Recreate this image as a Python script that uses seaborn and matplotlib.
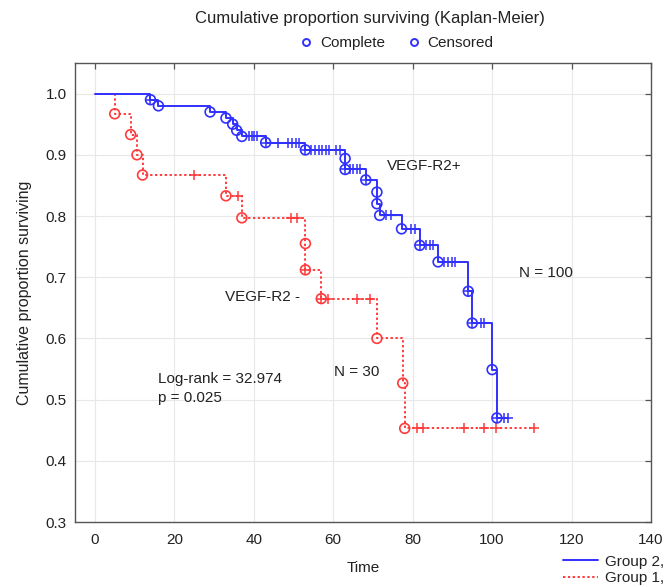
import numpy as np
import pandas as pd
import matplotlib
matplotlib.use("Agg")
import matplotlib.pyplot as plt
from matplotlib.lines import Line2D
import seaborn as sns

# ---- Data ----
# Group 2 (VEGF-R2+), N = 100
g2_event_times = [14, 16, 29, 33, 34.7, 35.7, 37, 43, 53, 63, 63, 68.2, 71, 71, 71.7,
                  77.2, 81.8, 86.4, 94, 95, 100, 101.2]
g2_surv = [0.99, 0.98, 0.97, 0.96, 0.95, 0.94, 0.93, 0.92, 0.908, 0.894, 0.876, 0.859,
           0.839, 0.820, 0.801, 0.779, 0.752, 0.725, 0.677, 0.625, 0.549, 0.470]
g2_censor_times = [14, 38.9, 39.5, 40.1, 40.7, 43, 46, 48.7, 49.7, 50.6, 51.5, 53, 54.5,
                   55.4, 56.4, 57.3, 58.2, 59, 60.8, 61.7, 63, 64.2, 65, 66, 66.7, 68.2,
                   73.4, 74.6, 79.5, 80.5, 81.8, 83.4, 84.3, 85.1, 88, 88.9, 89.8, 90.6,
                   94, 95, 97.2, 98, 101.2, 103, 104]

# Group 1 (VEGF-R2 -), N = 30
g1_event_times = [5, 9, 10.6, 12, 33, 37, 53, 53, 57, 71, 77.5, 78]
g1_surv = [0.967, 0.933, 0.900, 0.867, 0.833, 0.797, 0.755, 0.712, 0.665, 0.600,
           0.527, 0.453]
g1_censor_times = [25, 36, 49.5, 50.8, 53, 57, 58.7, 66, 69.2, 81, 82.6, 93, 98, 101, 110.5]

x_ticks = [0, 20, 40, 60, 80, 100, 120, 140]
y_ticks = [0.3, 0.4, 0.5, 0.6, 0.7, 0.8, 0.9, 1.0]
y_tick_labels = ["0.3", "0.4", "0.5", "0.6", "0.7", "0.8", "0.9", "1.0"]

BLUE = "#3030ff"
RED = "#ff3a3a"
TXT = "#222222"

sns.set_theme(style="whitegrid")
plt.rcParams['font.family'] = ['Liberation Sans', 'DejaVu Sans']

fig = plt.figure(figsize=(6.64, 5.87), dpi=100)
ax = fig.add_axes([75 / 664, 1 - 522 / 587, (651 - 75) / 664, (522 - 63) / 587])
ax.set_facecolor("white")


def step_frame(times, surv, end):
    x = [0.0] + list(times) + [end]
    y = [1.0] + list(surv) + [surv[-1]]
    return pd.DataFrame({"Time": x, "S": y})


def censor_frame(times, surv, ctimes):
    t = np.asarray(times)
    ys = []
    for c in ctimes:
        idx = np.searchsorted(t, c, side="right")
        ys.append(1.0 if idx == 0 else surv[idx - 1])
    return pd.DataFrame({"Time": ctimes, "S": ys})


for times, surv, ctimes, color, ls in [
    (g1_event_times, g1_surv, g1_censor_times, RED, (0, (1.2, 1.3))),
    (g2_event_times, g2_surv, g2_censor_times, BLUE, "-"),
]:
    end = max(ctimes[-1], times[-1])
    sns.lineplot(data=step_frame(times, surv, end), x="Time", y="S", estimator=None,
                 sort=False, drawstyle="steps-post", color=color, linewidth=1.4,
                 linestyle=ls, ax=ax, zorder=3)
    sns.scatterplot(x=times, y=surv, marker="o", s=50, color=color, facecolor="none",
                    edgecolor=color, linewidth=1.2, ax=ax, zorder=4)
    cf = censor_frame(times, surv, ctimes)
    sns.scatterplot(data=cf, x="Time", y="S", marker="+", s=50, color=color,
                    linewidth=1.1, ax=ax, zorder=4)

ax.set_xlim(-5, 140)
ax.set_ylim(0.3, 1.05)
ax.set_xticks(x_ticks)
ax.set_yticks(y_ticks)
ax.set_yticklabels(y_tick_labels)
ax.grid(True, color="#e8e8e8", linewidth=0.8)
for sp in ax.spines.values():
    sp.set_color("#555555")
    sp.set_linewidth(1.0)
ax.tick_params(direction="in", length=4, width=0.9, top=True, right=True,
               colors="#555555", labelcolor=TXT, labelsize=11, pad=6)
ax.tick_params(axis="x", pad=8)

ax.set_xlabel("Time", fontsize=11, color=TXT, labelpad=10)
ax.set_ylabel("Cumulative proportion surviving", fontsize=11.5, color=TXT, labelpad=10)

ax.text(73.5, 0.881, "VEGF-R2+", fontsize=11, color=TXT, va="center", ha="left")
ax.text(32.8, 0.667, "VEGF-R2 -", fontsize=11, color=TXT, va="center", ha="left")
ax.text(106.7, 0.707, "N = 100", fontsize=11, color=TXT, va="center", ha="left")
ax.text(60.2, 0.545, "N = 30", fontsize=11, color=TXT, va="center", ha="left")
ax.text(15.9, 0.533, "Log-rank = 32.974", fontsize=11, color=TXT, va="center", ha="left")
ax.text(15.9, 0.502, "p = 0.025", fontsize=11, color=TXT, va="center", ha="left")

fig.text(370 / 664, 1 - 18 / 587, "Cumulative proportion surviving (Kaplan-Meier)",
         ha="center", va="center", fontsize=12, color=TXT)

top_handles = [
    Line2D([], [], marker="o", ls="none", mfc="none", mec=BLUE, ms=5, mew=1.4, label="Complete"),
    Line2D([], [], marker="o", ls="none", mfc="none", mec=BLUE, ms=5, mew=1.4, label="Censored"),
]
fig.legend(handles=top_handles, ncol=2, loc="center", bbox_to_anchor=(396 / 664, 1 - 43 / 587),
           frameon=False, fontsize=11, handletextpad=0.4, columnspacing=1.4,
           handlelength=1.0, labelcolor=TXT)

bot_handles = [
    Line2D([], [], color=BLUE, lw=1.4, label="Group 2,"),
    Line2D([], [], color=RED, lw=1.4, ls=(0, (1.2, 1.3)), label="Group 1,"),
]
fig.legend(handles=bot_handles, loc="upper left", bbox_to_anchor=(555 / 664, 1 - 547 / 587),
           frameon=False, fontsize=11, handlelength=2.3, handletextpad=0.5,
           labelspacing=0.15, borderpad=0.0, labelcolor=TXT)

fig.savefig("out.png", dpi=100, facecolor="white")
